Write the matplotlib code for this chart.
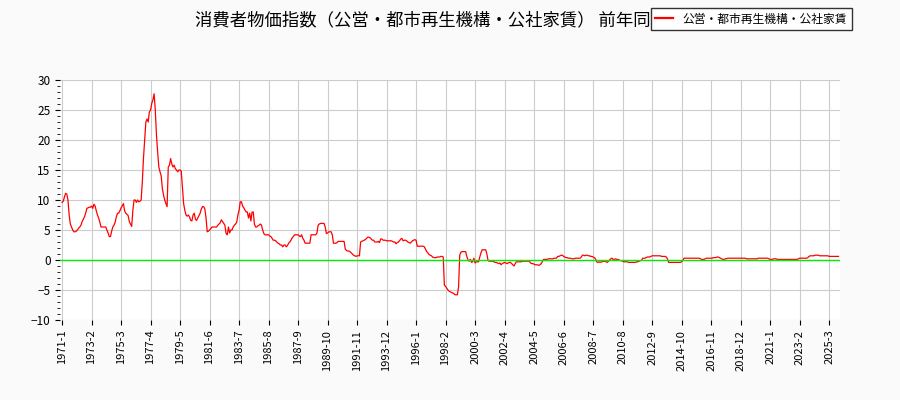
import matplotlib
matplotlib.use('Agg')
import matplotlib.pyplot as plt

plt.rcParams['font.family'] = ['Noto Sans CJK JP', 'DejaVu Sans']

start_year = 1971
yearly = [
    [9.6, 9.8, 10.5, 11.1, 11.0, 10.0, 7.5, 6.0, 5.5, 5.0, 4.7, 4.7],
    [4.8, 5.0, 5.3, 5.5, 5.8, 6.4, 6.8, 7.2, 7.8, 8.6, 8.7, 8.8],
    [8.8, 9.0, 8.6, 9.3, 9.0, 8.2, 7.5, 7.0, 6.3, 5.5, 5.5, 5.5],
    [5.5, 5.5, 5.0, 4.5, 3.9, 3.9, 4.8, 5.5, 5.8, 6.3, 7.2, 7.8],
    [7.8, 8.2, 8.7, 9.0, 9.4, 8.2, 7.8, 7.6, 7.4, 6.4, 6.0, 5.6],
    [8.3, 10.0, 10.0, 9.6, 10.0, 9.7, 9.8, 10.0, 13.0, 17.0, 20.0, 23.0],
    [23.5, 23.0, 24.7, 25.0, 26.1, 26.7, 27.7, 25.0, 20.8, 18.0, 15.5, 14.7],
    [14.0, 11.9, 10.8, 10.0, 9.4, 8.9, 15.5, 15.8, 16.9, 16.0, 15.5, 15.8],
    [15.2, 15.0, 14.7, 15.0, 15.0, 14.8, 12.2, 9.4, 8.3, 7.5, 7.3, 7.5],
    [7.2, 6.6, 6.5, 7.5, 7.8, 6.8, 6.6, 7.0, 7.4, 7.8, 8.5, 8.9],
    [8.9, 8.5, 7.0, 4.7, 4.8, 5.0, 5.2, 5.5, 5.5, 5.5, 5.5, 5.5],
    [5.8, 6.0, 6.2, 6.7, 6.4, 6.1, 5.8, 4.4, 4.2, 5.5, 4.5, 5.0],
    [5.0, 5.5, 5.8, 6.0, 6.3, 7.5, 8.3, 9.7, 9.7, 9.0, 8.7, 8.3],
    [8.0, 8.0, 7.0, 7.8, 6.5, 8.0, 8.0, 6.0, 5.5, 5.5, 5.7, 5.8],
    [6.0, 5.8, 5.0, 4.4, 4.2, 4.2, 4.2, 4.2, 4.0, 3.9, 3.6, 3.3],
    [3.3, 3.2, 3.0, 2.8, 2.7, 2.5, 2.5, 2.2, 2.5, 2.5, 2.2, 2.4],
    [2.8, 3.0, 3.3, 3.7, 3.9, 4.2, 4.2, 4.2, 4.2, 4.0, 3.9, 4.2],
    [3.6, 3.3, 2.8, 2.8, 2.8, 2.8, 2.8, 4.2, 4.2, 4.2, 4.2, 4.2],
    [4.5, 5.8, 6.0, 6.1, 6.1, 6.1, 6.1, 5.5, 4.4, 4.5, 4.7, 4.7],
    [4.7, 4.2, 2.8, 2.8, 2.8, 2.9, 3.1, 3.1, 3.1, 3.1, 3.1, 3.1],
    [1.8, 1.6, 1.5, 1.5, 1.4, 1.2, 1.0, 0.8, 0.7, 0.6, 0.7, 0.7],
    [0.7, 3.0, 3.1, 3.2, 3.3, 3.4, 3.6, 3.8, 3.8, 3.7, 3.5, 3.3],
    [3.3, 3.0, 3.0, 3.0, 3.1, 2.9, 3.5, 3.5, 3.3, 3.3, 3.3, 3.2],
    [3.2, 3.2, 3.2, 3.2, 3.1, 3.0, 3.0, 2.7, 2.9, 3.0, 3.2, 3.5],
    [3.6, 3.2, 3.3, 3.3, 3.2, 3.0, 2.9, 2.8, 3.0, 3.2, 3.3, 3.4],
    [3.3, 2.3, 2.3, 2.3, 2.3, 2.3, 2.3, 2.2, 1.8, 1.4, 1.2, 0.9],
    [0.8, 0.7, 0.5, 0.4, 0.4, 0.4, 0.5, 0.5, 0.5, 0.6, 0.6, 0.5],
    [-4.2, -4.4, -4.7, -5.0, -5.2, -5.3, -5.4, -5.5, -5.6, -5.8, -5.8, -5.8],
    [-4.5, 0.8, 1.3, 1.4, 1.4, 1.4, 1.4, 0.6, 0.0, -0.2, 0.1, -0.4],
    [-0.3, 0.3, -0.5, -0.3, -0.3, -0.3, 0.5, 1.2, 1.7, 1.7, 1.7, 1.7],
    [1.0, -0.1, -0.2, -0.2, -0.2, -0.2, -0.3, -0.4, -0.4, -0.5, -0.6, -0.5],
    [-0.8, -0.6, -0.5, -0.4, -0.5, -0.6, -0.5, -0.4, -0.4, -0.6, -0.8, -1.0],
    [-0.6, -0.3, -0.3, -0.3, -0.3, -0.3, -0.2, -0.2, -0.2, -0.2, -0.2, -0.2],
    [-0.2, -0.5, -0.6, -0.6, -0.7, -0.8, -0.8, -0.8, -0.9, -0.8, -0.6, -0.3],
    [0.1, 0.1, 0.1, 0.1, 0.2, 0.2, 0.2, 0.2, 0.2, 0.3, 0.3, 0.3],
    [0.6, 0.6, 0.7, 0.8, 0.8, 0.6, 0.5, 0.4, 0.4, 0.3, 0.3, 0.3],
    [0.2, 0.2, 0.2, 0.3, 0.3, 0.3, 0.3, 0.3, 0.5, 0.8, 0.8, 0.7],
    [0.8, 0.8, 0.7, 0.7, 0.6, 0.6, 0.5, 0.4, 0.2, -0.3, -0.4, -0.3],
    [-0.4, -0.3, -0.3, -0.2, -0.2, -0.3, -0.4, -0.2, 0.0, 0.2, 0.3, 0.1],
    [0.1, 0.2, 0.1, 0.1, 0.0, -0.1, -0.1, -0.2, -0.3, -0.3, -0.3, -0.3],
    [-0.4, -0.4, -0.4, -0.4, -0.4, -0.4, -0.4, -0.3, -0.3, -0.2, -0.1, -0.1],
    [0.3, 0.3, 0.3, 0.4, 0.5, 0.5, 0.5, 0.6, 0.7, 0.7, 0.7, 0.7],
    [0.7, 0.7, 0.7, 0.7, 0.6, 0.6, 0.6, 0.6, 0.5, 0.2, -0.4, -0.4],
    [-0.4, -0.4, -0.4, -0.4, -0.4, -0.4, -0.4, -0.4, -0.4, -0.3, -0.1, 0.3],
    [0.3, 0.3, 0.3, 0.3, 0.3, 0.3, 0.3, 0.3, 0.3, 0.3, 0.3, 0.3],
    [0.3, 0.2, 0.1, 0.1, 0.1, 0.2, 0.3, 0.3, 0.3, 0.3, 0.3, 0.3],
    [0.4, 0.4, 0.4, 0.5, 0.5, 0.4, 0.3, 0.2, 0.1, 0.1, 0.2, 0.2],
    [0.3, 0.3, 0.3, 0.3, 0.3, 0.3, 0.3, 0.3, 0.3, 0.3, 0.3, 0.3],
    [0.3, 0.3, 0.3, 0.3, 0.2, 0.2, 0.2, 0.2, 0.2, 0.2, 0.2, 0.2],
    [0.2, 0.2, 0.3, 0.3, 0.3, 0.3, 0.3, 0.3, 0.3, 0.3, 0.3, 0.2],
    [0.1, 0.1, 0.1, 0.2, 0.2, 0.2, 0.1, 0.1, 0.1, 0.1, 0.1, 0.1],
    [0.1, 0.1, 0.1, 0.1, 0.1, 0.1, 0.1, 0.1, 0.1, 0.1, 0.1, 0.1],
    [0.2, 0.3, 0.3, 0.3, 0.3, 0.3, 0.3, 0.3, 0.4, 0.6, 0.7, 0.7],
    [0.7, 0.7, 0.8, 0.8, 0.8, 0.8, 0.7, 0.7, 0.7, 0.7, 0.7, 0.7],
    [0.7, 0.7, 0.6, 0.6, 0.6, 0.6, 0.6, 0.6, 0.6, 0.6, 0.6],
]

values = [v for year in yearly for v in year]
labels = []
for i in range(len(values)):
    labels.append(f"{start_year + i // 12}-{i % 12 + 1}")
x = list(range(len(values)))

fig = plt.figure(figsize=(9, 4), dpi=100, facecolor='#fafafa')
ax = fig.add_axes([0.067, 0.2, 0.866, 0.6])
ax.set_facecolor('white')

ax.plot(x, values, color='red', lw=0.9, label='公営・都市再生機構・公社家賃')
ax.axhline(0, color='#00ee00', lw=1)

ticks = x[::25]
ax.set_xticks(ticks)
ax.set_xticklabels([labels[t] for t in ticks], rotation=90, fontsize=8)
ax.set_xlim(-1.5, 659)
ax.set_ylim(-10, 30)
ax.set_yticks(range(-10, 31, 5))
ax.set_yticks(range(-10, 31, 1), minor=True)
ax.tick_params(axis='y', labelsize=8.5)
ax.grid(True, color='#cccccc', lw=0.8)
for s in ax.spines.values():
    s.set_visible(False)

fig.text(0.217, 0.95, '消費者物価指数（公営・都市再生機構・公社家賃） 前年同月比', ha='left', va='center', fontsize=12.5)
leg = fig.legend(loc='upper right', bbox_to_anchor=(0.953, 0.995), fontsize=8.5, frameon=True,
                 fancybox=False, edgecolor='#333333', framealpha=1, handlelength=1.5)
for line in leg.get_lines():
    line.set_linewidth(1.6)

fig.savefig('out.png', dpi=100, facecolor=fig.get_facecolor())
